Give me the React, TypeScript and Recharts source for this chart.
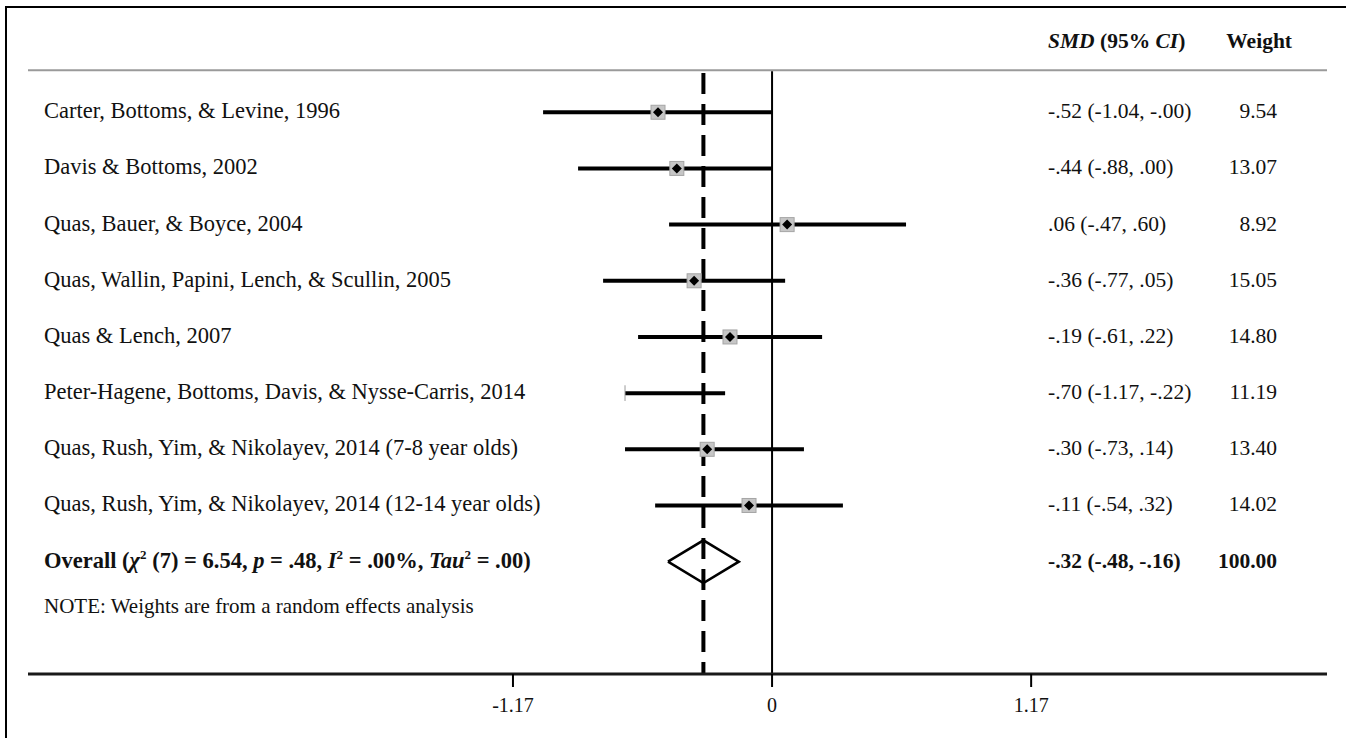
import React from "react";
import { ScatterChart, XAxis, YAxis, Scatter, ReferenceLine } from "recharts";

// Studies, top to bottom
const studies = [
  "Carter, Bottoms, & Levine, 1996",
  "Davis & Bottoms, 2002",
  "Quas, Bauer, & Boyce, 2004",
  "Quas, Wallin, Papini, Lench, & Scullin, 2005",
  "Quas & Lench, 2007",
  "Peter-Hagene, Bottoms, Davis, & Nysse-Carris, 2014",
  "Quas, Rush, Yim, & Nikolayev, 2014 (7-8 year olds)",
  "Quas, Rush, Yim, & Nikolayev, 2014 (12-14 year olds)",
];
const smdLabels = [
  "-.52 (-1.04, -.00)",
  "-.44 (-.88, .00)",
  ".06 (-.47, .60)",
  "-.36 (-.77, .05)",
  "-.19 (-.61, .22)",
  "-.70 (-1.17, -.22)",
  "-.30 (-.73, .14)",
  "-.11 (-.54, .32)",
];
const weights = ["9.54", "13.07", "8.92", "15.05", "14.80", "11.19", "13.40", "14.02"];

// values as drawn in the plot
const estimates = [-0.515, -0.43, 0.068, -0.352, -0.19, -0.7, -0.293, -0.104];
const ciLow = [-1.034, -0.876, -0.465, -0.763, -0.605, -0.664, -0.664, -0.528];
const ciHigh = [0, 0, 0.605, 0.059, 0.226, -0.212, 0.144, 0.32];

const overallSmd = "-.32 (-.48, -.16)";
const overallWeight = "100.00";
const overallEstimate = -0.31;
const overallLow = -0.47;
const overallHigh = -0.15;

const axisTicks = [-1.17, 0, 1.17];
const axisTickLabels = ["-1.17", "0", "1.17"];
const noteText = "NOTE: Weights are from a random effects analysis";

const HEADER_ROW = -0.25;
const OVERALL_ROW = 9;
const NOTE_ROW = 9.8;
const rowTicks = [HEADER_ROW, 1, 2, 3, 4, 5, 6, 7, 8, OVERALL_ROW, NOTE_ROW];

const FONT = "'Liberation Serif', 'Times New Roman', serif";
const LABEL_X = 44;
const SMD_X = 1048;
const WEIGHT_X = 1277;
const WEIGHT_HEAD_X = 1292;
const LABEL_SIZE = 22.5;
const COL_SIZE = 21.5;

// marker is hidden when the estimate falls outside the drawn interval
const markers = estimates
  .map((x, i) => ({ x, y: i + 1, lo: ciLow[i], hi: ciHigh[i] }))
  .filter((d) => d.x >= d.lo && d.x <= d.hi);

const diamond = [
  { x: overallLow, y: OVERALL_ROW },
  { x: overallEstimate, y: OVERALL_ROW - 0.38 },
  { x: overallHigh, y: OVERALL_ROW },
  { x: overallEstimate, y: OVERALL_ROW + 0.38 },
  { x: overallLow, y: OVERALL_ROW },
];

// one text row per table line, placed on the y scale
const textRows = rowTicks.map((y) => ({ x: 0, y }));

function StudyMarker(props: any) {
  const { cx, cy } = props;
  return (
    <g>
      <rect x={cx - 7} y={cy - 7} width={14} height={14} fill="#c6c6c6" stroke="#a5a5a5" strokeWidth={1} />
      <polygon
        points={`${cx - 5},${cy} ${cx},${cy - 5} ${cx + 5},${cy} ${cx},${cy + 5}`}
        fill="#000"
      />
    </g>
  );
}

function RowText(props: any) {
  const { cy, payload } = props;
  const v = payload.y;
  const base = { y: cy + 6, fontFamily: FONT, fontSize: LABEL_SIZE, fill: "#111" };

  if (v === HEADER_ROW) {
    return (
      <g>
        <text {...base} x={SMD_X} fontSize={COL_SIZE} fontWeight="bold">
          <tspan fontStyle="italic">SMD</tspan> (95% <tspan fontStyle="italic">CI</tspan>)
        </text>
        <text {...base} x={WEIGHT_HEAD_X} fontSize={COL_SIZE} textAnchor="end" fontWeight="bold">
          Weight
        </text>
      </g>
    );
  }
  if (v === NOTE_ROW) {
    return <text {...base} x={LABEL_X} fontSize={21}>{noteText}</text>;
  }
  if (v === OVERALL_ROW) {
    return (
      <g>
        <text {...base} x={LABEL_X} fontWeight="bold">
          Overall (<tspan fontStyle="italic">χ</tspan>
          <tspan fontSize={13} dy={-9}>2</tspan>
          <tspan dy={9}> (7) = 6.54, </tspan>
          <tspan fontStyle="italic">p</tspan> = .48, <tspan fontStyle="italic">I</tspan>
          <tspan fontSize={13} dy={-9}>2</tspan>
          <tspan dy={9}> = .00%,  </tspan>
          <tspan fontStyle="italic">Tau</tspan>
          <tspan fontSize={13} dy={-9}>2</tspan>
          <tspan dy={9}> = .00)</tspan>
        </text>
        <text {...base} x={SMD_X} fontSize={COL_SIZE} fontWeight="bold">{overallSmd}</text>
        <text {...base} x={WEIGHT_X} fontSize={COL_SIZE} textAnchor="end" fontWeight="bold">
          {overallWeight}
        </text>
      </g>
    );
  }
  return (
    <g>
      <text {...base} x={LABEL_X}>{studies[v - 1]}</text>
      <text {...base} x={SMD_X} fontSize={COL_SIZE}>{smdLabels[v - 1]}</text>
      <text {...base} x={WEIGHT_X} fontSize={COL_SIZE} textAnchor="end">{weights[v - 1]}</text>
    </g>
  );
}

function AxisTick(props: any) {
  const { x, y, payload } = props;
  const i = axisTicks.indexOf(payload.value);
  return (
    <text x={x} y={y} dy={17} textAnchor="middle" fontFamily={FONT} fontSize={20} fill="#111">
      {i >= 0 ? axisTickLabels[i] : payload.value}
    </text>
  );
}

export default function App() {
  return (
    <div style={{ position: "absolute", left: 0, top: 0, width: 1346, height: 738, background: "#fff", overflow: "hidden" }}>
      {/* frame: left and top rules only */}
      <div style={{ position: "absolute", left: 5, top: 6, width: 2, height: 732, background: "#000" }} />
      <div style={{ position: "absolute", left: 5, top: 6, width: 1341, height: 2, background: "#000" }} />
      <div style={{ position: "absolute", left: 0, top: 0 }}>
        <ScatterChart width={1346} height={738} margin={{ top: 28, right: 19, bottom: 24, left: 28 }}>
          <XAxis
            type="number"
            dataKey="x"
            domain={[-3.36, 2.506]}
            allowDataOverflow
            ticks={axisTicks}
            interval={0}
            axisLine={{ stroke: "#1a1a1a", strokeWidth: 3 }}
            tickLine={{ stroke: "#000", strokeWidth: 2 }}
            tickSize={13}
            tickMargin={8}
            height={40}
            tick={<AxisTick />}
          />
          <YAxis
            type="number"
            dataKey="y"
            domain={[-0.5, 11]}
            allowDataOverflow
            reversed
            hide
          />
          {/* header separator */}
          <ReferenceLine y={0.25} stroke="#9a9a9a" strokeWidth={2} />
          {/* line of no effect */}
          <ReferenceLine segment={[{ x: 0, y: 0.27 }, { x: 0, y: 11 }]} stroke="#000" strokeWidth={2} />
          {/* pooled estimate */}
          <ReferenceLine
            segment={[{ x: overallEstimate, y: 0.3 }, { x: overallEstimate, y: 11 }]}
            stroke="#000"
            strokeWidth={4}
            strokeDasharray="21 10"
          />
          {studies.map((s, i) => (
            <ReferenceLine
              key={s}
              segment={[{ x: ciLow[i], y: i + 1 }, { x: ciHigh[i], y: i + 1 }]}
              stroke="#000"
              strokeWidth={4}
            />
          ))}
          {/* clipped interval cap */}
          <ReferenceLine
            segment={[{ x: ciLow[5], y: 5.86 }, { x: ciLow[5], y: 6.14 }]}
            stroke="#9a9a9a"
            strokeWidth={1}
          />
          <Scatter data={markers} shape={<StudyMarker />} isAnimationActive={false} />
          <Scatter
            data={diamond}
            line={{ stroke: "#000", strokeWidth: 2.5 }}
            lineType="joint"
            shape={() => <g />}
            isAnimationActive={false}
          />
          <Scatter data={textRows} shape={<RowText />} isAnimationActive={false} />
        </ScatterChart>
      </div>
    </div>
  );
}
